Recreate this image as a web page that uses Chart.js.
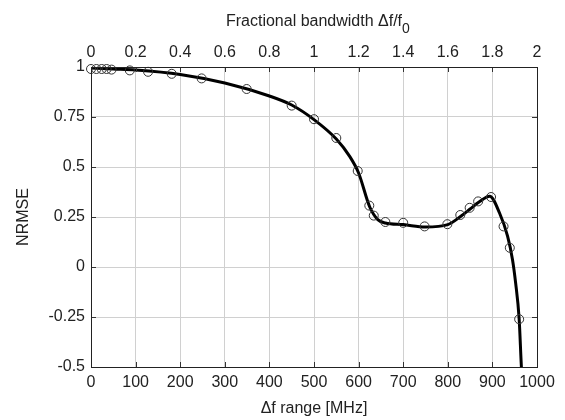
<!DOCTYPE html>
<html>
<head>
<meta charset="utf-8">
<script src="https://cdn.jsdelivr.net/npm/chart.js@4/dist/chart.umd.min.js"></script>
<style>
  body { margin: 0; background: #fff; }
  #wrap { width: 565px; height: 420px; }
</style>
</head>
<body>
<div id="wrap"><canvas id="myChart" width="565" height="420"></canvas></div>
<script>
// measured points (circles)
var mhz = [0, 12, 24, 35, 46, 87, 128, 181, 248, 349, 450, 500, 550, 598, 624, 634, 660, 700, 748, 799, 828, 849, 868, 897, 925, 939, 960];
var nrmse = [0.99, 0.99, 0.99, 0.99, 0.987, 0.983, 0.976, 0.966, 0.943, 0.89, 0.807, 0.739, 0.645, 0.48, 0.307, 0.257, 0.225, 0.221, 0.203, 0.214, 0.26, 0.296, 0.328, 0.35, 0.203, 0.096, -0.261];

// fitted curve
var fitX = [0, 50, 100, 200, 300, 400, 450, 500, 550, 580, 600, 625, 643, 660, 700, 750, 800, 830, 850, 870, 894, 916, 934, 945, 952, 960, 965, 972];
var fitY = [0.995, 0.99, 0.985, 0.963, 0.92, 0.855, 0.81, 0.737, 0.64, 0.553, 0.47, 0.3, 0.237, 0.22, 0.212, 0.2, 0.212, 0.255, 0.29, 0.325, 0.354, 0.27, 0.154, 0.038, -0.078, -0.26, -0.5, -0.75];

var bottomTicks = [0, 100, 200, 300, 400, 500, 600, 700, 800, 900, 1000];
var topTicks = [0, 0.2, 0.4, 0.6, 0.8, 1, 1.2, 1.4, 1.6, 1.8, 2];
var yTicks = [-0.5, -0.25, 0, 0.25, 0.5, 0.75, 1];

var topTitle = 'Fractional bandwidth \u0394f/f';
var topTitleSub = '0';

function toPoints(xs, ys) {
    var pts = [];
    xs.forEach(function(x, i){ pts.push({x: x, y: ys[i]}); });
    return pts;
}

var family = "'Liberation Sans', Arial, sans-serif";
var font = { family: family, size: 16 };

// box + inward ticks + subscript of the top title
var frame = {
    id: 'frame',
    afterDatasetsDraw: function(chart) {
        var ctx = chart.ctx, a = chart.chartArea;
        var sx = chart.scales.x, sx2 = chart.scales.x2, sy = chart.scales.y;
        ctx.save();
        ctx.strokeStyle = '#333';
        ctx.lineWidth = 1;
        ctx.beginPath();
        bottomTicks.forEach(function(v){
            var p = Math.round(sx.getPixelForValue(v)) + 0.5;
            ctx.moveTo(p, a.bottom); ctx.lineTo(p, a.bottom - 5);
        });
        topTicks.forEach(function(v){
            var p = Math.round(sx2.getPixelForValue(v)) + 0.5;
            ctx.moveTo(p, a.top); ctx.lineTo(p, a.top + 5);
        });
        yTicks.forEach(function(v){
            var p = Math.round(sy.getPixelForValue(v)) + 0.5;
            ctx.moveTo(a.left, p); ctx.lineTo(a.left + 5, p);
            ctx.moveTo(a.right, p); ctx.lineTo(a.right - 5, p);
        });
        ctx.stroke();
        ctx.strokeStyle = '#222';
        ctx.strokeRect(Math.round(a.left) + 0.5, Math.round(a.top) + 0.5,
            Math.round(a.right - a.left), Math.round(a.bottom - a.top));

        ctx.font = '16px ' + family;
        var w = ctx.measureText(topTitle).width;
        var cx = (sx2.left + sx2.right) / 2;
        ctx.font = '14px ' + family;
        ctx.fillStyle = '#222';
        ctx.textAlign = 'left';
        ctx.textBaseline = 'middle';
        ctx.fillText(topTitleSub, cx + w / 2, chart.options.scales.x2.title.padding.top + 9.6 + 8);
        ctx.restore();
    }
};

new Chart(document.getElementById('myChart'), {
    type: 'scatter',
    data: {
        datasets: [{
            data: toPoints(mhz, nrmse),
            showLine: false,
            pointStyle: 'circle',
            pointRadius: 4.5,
            pointBackgroundColor: 'rgba(0,0,0,0)',
            pointBorderColor: '#333',
            pointBorderWidth: 1,
            clip: 6
        }, {
            data: toPoints(fitX, fitY),
            showLine: true,
            borderColor: '#000',
            borderWidth: 3,
            pointRadius: 0,
            cubicInterpolationMode: 'monotone',
            clip: 0
        }]
    },
    options: {
        responsive: false,
        animation: false,
        layout: { padding: { left: 0, right: 28, top: 0, bottom: 0 } },
        plugins: { legend: { display: false }, tooltip: { enabled: false } },
        scales: {
            x: {
                type: 'linear', position: 'bottom', min: 0, max: 1000,
                afterBuildTicks: function(s){ s.ticks = bottomTicks.map(function(v){ return {value: v}; }); },
                afterFit: function(s){ s.height = 53; },
                grid: { color: '#d0d0d0', lineWidth: 1, drawTicks: false },
                border: { display: false },
                ticks: { font: font, color: '#222', padding: 6, maxRotation: 0,
                    callback: function(v){ return String(v); } },
                title: { display: true, text: '\u0394f range [MHz]', font: font, color: '#222', padding: { top: 0, bottom: 2 } }
            },
            x2: {
                type: 'linear', position: 'top', min: 0, max: 2,
                afterBuildTicks: function(s){ s.ticks = topTicks.map(function(v){ return {value: v}; }); },
                afterFit: function(s){ s.height = 67; },
                grid: { display: false, drawTicks: false },
                border: { display: false },
                ticks: { font: font, color: '#222', padding: 5, maxRotation: 0,
                    callback: function(v){ return String(Number(v.toFixed(1))); } },
                title: { display: true, text: topTitle, font: font, color: '#222', padding: { top: 12, bottom: 0 } }
            },
            y: {
                type: 'linear', min: -0.5, max: 1,
                afterBuildTicks: function(s){ s.ticks = yTicks.map(function(v){ return {value: v}; }); },
                afterFit: function(s){ s.width = 91; },
                grid: { color: '#d0d0d0', lineWidth: 1, drawTicks: false },
                border: { display: false },
                ticks: { font: font, color: '#222', padding: 6,
                    callback: function(v){ return String(v); } },
                title: { display: true, text: 'NRMSE', font: font, color: '#222', padding: { top: 14, bottom: 0 } }
            }
        }
    },
    plugins: [frame]
});
</script>
</body>
</html>
